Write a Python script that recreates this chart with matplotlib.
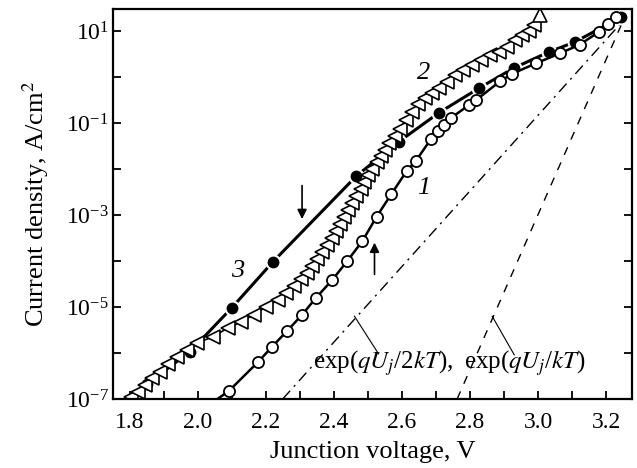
import numpy as np
import matplotlib
matplotlib.use("Agg")
import matplotlib.pyplot as plt
from matplotlib.ticker import FixedLocator, FuncFormatter

plt.rcParams['font.family'] = ['Liberation Serif', 'DejaVu Serif']
plt.rcParams['mathtext.fontset'] = 'stix'

# curve 1 (open circles), voltage in V, log10 of current density in A/cm2
v1 = [2.057, 2.090, 2.176, 2.217, 2.262, 2.306, 2.347, 2.395, 2.439, 2.483,
      2.525, 2.569, 2.614, 2.640, 2.685, 2.705, 2.723, 2.744, 2.797, 2.818,
      2.889, 2.924, 2.995, 3.066, 3.122, 3.179, 3.205, 3.229]
lj1 = [-7.00, -6.83, -6.20, -5.87, -5.52, -5.17, -4.80, -4.41, -4.00, -3.57,
       -3.04, -2.54, -2.04, -1.83, -1.35, -1.17, -1.04, -0.89, -0.61, -0.50,
       -0.09, 0.07, 0.30, 0.52, 0.70, 0.98, 1.15, 1.30]

# curve 2 (open triangles)
v2 = [1.803, 1.824, 1.844, 1.865, 1.889, 1.912, 1.939, 1.969, 1.998, 2.043,
      2.087, 2.125, 2.164, 2.199, 2.235, 2.259, 2.282, 2.303, 2.321, 2.336,
      2.350, 2.365, 2.380, 2.395, 2.407, 2.418, 2.430, 2.442, 2.454, 2.466,
      2.478, 2.489, 2.501, 2.513, 2.525, 2.537, 2.549, 2.563, 2.578, 2.593,
      2.611, 2.628, 2.646, 2.667, 2.688, 2.708, 2.732, 2.756, 2.779, 2.806,
      2.833, 2.859, 2.886, 2.909, 2.933, 2.954, 2.972, 2.989, 3.007]
lj2 = [-6.96, -6.85, -6.70, -6.54, -6.41, -6.24, -6.09, -5.94, -5.78, -5.65,
       -5.46, -5.33, -5.17, -5.00, -4.85, -4.70, -4.54, -4.39, -4.26, -4.11,
       -3.96, -3.80, -3.65, -3.50, -3.35, -3.20, -3.04, -2.89, -2.74, -2.59,
       -2.44, -2.28, -2.13, -2.00, -1.85, -1.72, -1.59, -1.44, -1.28, -1.13,
       -0.94, -0.76, -0.59, -0.46, -0.35, -0.24, -0.11, 0.04, 0.15, 0.26,
       0.37, 0.48, 0.54, 0.65, 0.80, 0.91, 1.00, 1.13, 1.35]

# curve 3 (filled circles)
v3 = [1.788, 1.850, 1.975, 2.099, 2.220, 2.466, 2.590, 2.708, 2.827, 2.930,
      3.031, 3.108, 3.244]
lj3 = [-7.00, -6.67, -5.98, -5.02, -4.02, -2.15, -1.41, -0.78, -0.24, 0.20,
       0.54, 0.76, 1.30]

# ideal slopes: exp(qU/2kT) and exp(qU/kT)
v_half = [2.249, 3.25]
lj_half = [-7.0, 1.22]
v_full = [2.762, 3.25]
lj_full = [-7.0, 1.22]

fig = plt.figure(figsize=(6.37, 4.68), dpi=100)
ax = fig.add_axes([0.1774, 0.1474, 0.8146, 0.8334])

ax.plot(v_half, 10 ** np.array(lj_half), color='black', lw=1.0, dashes=[8, 4, 1.5, 4])
ax.plot(v_full, 10 ** np.array(lj_full), color='black', lw=1.0, dashes=[6, 6])

ax.plot(v3, 10 ** np.array(lj3), '-', color='black', lw=2.2, marker='o', ms=10,
        mfc='black', mec='white', mew=1.5, markevery=slice(1, None))
ax.plot(v1, 10 ** np.array(lj1), '-', color='black', lw=1.8, marker='o', ms=8,
        mfc='white', mec='black', mew=1.3, markevery=slice(1, None))
ax.plot(v2, 10 ** np.array(lj2), '-', color='black', lw=1.2, marker='<', ms=9.5,
        mfc='white', mec='black', mew=1.2, markevery=slice(0, -1))
ax.plot(v2[-1:], 10 ** np.array(lj2[-1:]), '^', ms=10, mfc='white', mec='black', mew=1.2)

ax.set_yscale('log')
ax.set_xlim(1.75, 3.276)
ax.set_ylim(1e-7, 10 ** 1.478)

xt = np.round(np.arange(1.8, 3.25, 0.1), 1)
ax.xaxis.set_major_locator(FixedLocator(xt))
ax.xaxis.set_major_formatter(FuncFormatter(
    lambda x, p: f"{x:.1f}" if int(round(x * 10)) % 2 == 0 else ""))
yt = [10.0 ** e for e in range(-7, 2)]
ax.yaxis.set_major_locator(FixedLocator(yt))
ax.yaxis.set_minor_locator(FixedLocator([]))

def ylab(y, p):
    e = int(round(np.log10(y)))
    if e % 2 == 0:
        return ""
    return r"$\mathdefault{10^{%s}}$" % (str(e) if e > 0 else "\u2212%d" % -e)

ax.yaxis.set_major_formatter(FuncFormatter(ylab))
ax.tick_params(axis='both', which='major', direction='in', length=6, width=1.3,
               labelsize=17, top=False, right=True)
ax.tick_params(axis='x', pad=9)
ax.tick_params(axis='y', pad=3)
for s in ax.spines.values():
    s.set_linewidth(1.6)

ax.set_xlabel("Junction voltage, V", fontsize=19, labelpad=6)
ax.set_ylabel("Current density, A/cm$^2$", fontsize=19, labelpad=11)

ax.text(2.664, 10 ** -2.413, "1", fontsize=19, style='italic', ha='center', va='center')
ax.text(2.664, 10 ** 0.087, "2", fontsize=19, style='italic', ha='center', va='center')
ax.text(2.117, 10 ** -4.217, "3", fontsize=19, style='italic', ha='center', va='center')

ax.annotate("", xy=(2.306, 10 ** -3.15), xytext=(2.306, 10 ** -2.30),
            arrowprops=dict(arrowstyle='-|>', color='black', lw=1.2, mutation_scale=14))
ax.annotate("", xy=(2.519, 10 ** -3.54), xytext=(2.519, 10 ** -4.35),
            arrowprops=dict(arrowstyle='-|>', color='black', lw=1.2, mutation_scale=14))

ax.text(2.338, 10 ** -6.22, r"exp($q U_j$/2$kT$),", fontsize=18, ha='left', va='center')
ax.text(2.782, 10 ** -6.22, r"exp($q U_j$/$kT$)", fontsize=18, ha='left', va='center')
ax.plot([2.460, 2.531], [10 ** -5.20, 10 ** -6.02], color='black', lw=0.8)
ax.plot([2.865, 2.930], [10 ** -5.20, 10 ** -6.04], color='black', lw=0.8)

fig.savefig("out.png", dpi=100)
